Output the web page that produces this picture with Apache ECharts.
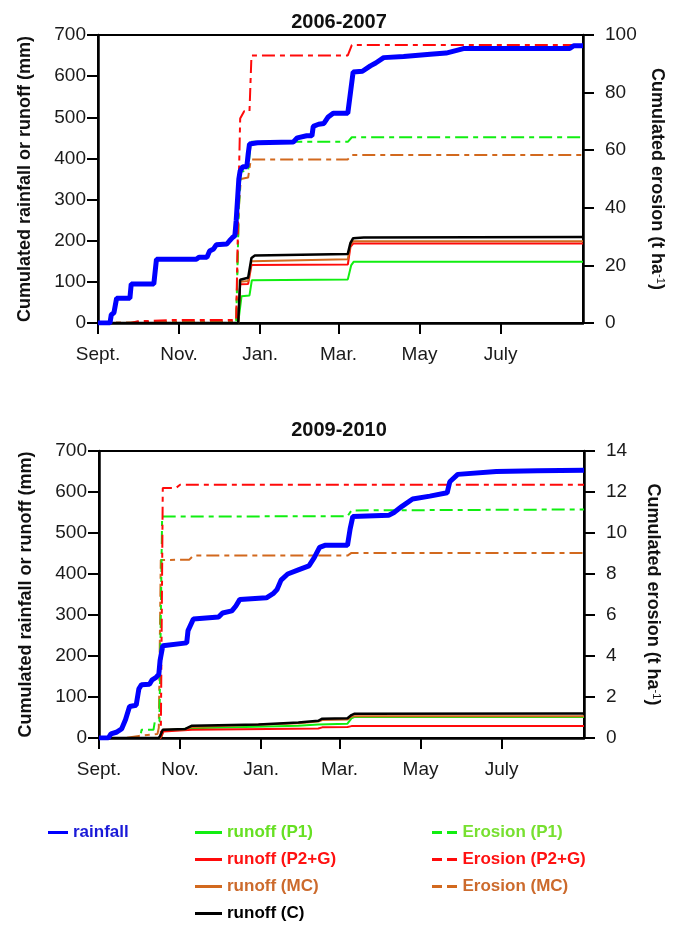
<!DOCTYPE html>
<html>
<head>
<meta charset="utf-8">
<title>Cumulated rainfall, runoff and erosion</title>
<script src="https://cdn.jsdelivr.net/npm/echarts@6.0.0/dist/echarts.min.js"></script>
<style>
  html, body { margin: 0; padding: 0; background: #fff; }
  #chart { width: 678px; height: 928px; }
</style>
</head>
<body>
<div id="chart"></div>
<script>
// x values are days counted from 1 September
const MONTH_TICKS = [0, 61, 122, 181, 242, 303]
const MONTH_LABELS = ['Sept.', 'Nov.', 'Jan.', 'Mar.', 'May', 'July']
const TITLES = ['2006-2007', '2009-2010']
const EROSION_MAX = [100, 14]
const EROSION_STEP = [20, 2]

// ---- 2006-2007 ----
const rain0607 = [[0,0],[9,0],[10,20],[12,25],[14,60],[24,60],[25,95],[42,95],[44,155],[74,155],[76,160],[82,160],[84,175],[87,180],[89,190],[97,192],[99,200],[101,207],[103,212],[104,250],[105,300],[106,350],[107,370],[109,380],[112,380],[113,410],[114,435],[120,438],[147,440],[150,450],[157,455],[161,455],[162,478],[166,483],[170,485],[173,500],[177,510],[188,510],[190,560],[192,610],[199,612],[205,625],[209,632],[215,645],[230,648],[250,653],[262,656],[275,667],[355,667],[358,674],[365,674]]
const runoffP1_0607 = [[0,0],[105.5,0],[108,65],[114,67],[115.8,104],[188,106],[190.5,140],[192.5,149],[365,149]]
const runoffP2G_0607 = [[0,0],[105.5,0],[107,94],[113,95],[115.5,141],[188,142],[190,185],[192,193],[365,193]]
const runoffMC_0607 = [[0,0],[105.5,0],[107,100],[113,102],[115.5,150],[188,155],[190,190],[192,199],[365,199]]
const runoffC_0607 = [[0,0],[105.5,0],[107,105],[113,110],[115.5,158],[118,164],[188,168],[190,195],[192,206],[200,208],[365,209]]
const erosionP1_0607 = [[0,0],[104,0],[106,40],[107.5,52.5],[113,53],[115,62.9],[188,62.9],[191,64.5],[365,64.5]]
const erosionP2G_0607 = [[0,0],[25,0],[30,0.6],[55,1],[104,1],[106,50],[107,71],[110,73.5],[114,73.5],[115.5,92.9],[188,92.9],[191,96.5],[365,96.5]]
const erosionMC_0607 = [[0,0],[30,0.3],[104,0.5],[106,40],[107.5,50],[113,50.5],[115,56.8],[188,56.8],[191,58.3],[365,58.3]]

// ---- 2009-2010 ----
const rain0910 = [[0,0],[7,0],[9,10],[13,14],[17,22],[20,45],[23,77],[28,80],[30,120],[32,130],[38,131],[40,142],[43,148],[45,155],[46,190],[48,225],[66,232],[67,262],[71,290],[90,295],[93,305],[100,310],[103,322],[106,338],[126,342],[131,352],[134,362],[137,385],[142,400],[150,410],[158,420],[162,440],[166,465],[170,470],[187,470],[189,510],[191,540],[218,543],[222,550],[228,565],[236,583],[249,590],[262,598],[264,625],[270,643],[299,650],[330,652],[365,653]]
const runoffP1_0910 = [[0,0],[45,0],[47,4],[48.5,18],[70,24],[150,30],[165,33],[187,35],[190,48],[192,51],[365,51]]
const runoffP2G_0910 = [[0,0],[45,0],[47,4],[48.5,16],[70,20],[165,23],[168,26],[187,27],[190,29],[365,29]]
const runoffMC_0910 = [[0,0],[45,0],[46,5],[48,20],[65,21],[70,27],[150,36],[165,40],[168,44],[187,45],[190,52],[192,53],[365,53]]
const runoffC_0910 = [[0,0],[45,0],[46,5],[48,20],[65,22],[70,30],[120,33],[150,38],[165,42],[168,47],[187,48],[190,56],[192,59],[365,60]]
const erosionP1_0910 = [[0,0],[31,0],[32,0.4],[41,0.4],[42,0.8],[45.5,0.8],[47.5,10.8],[187,10.82],[190,11.1],[365,11.15]]
const erosionP2G_0910 = [[0,0],[46.5,0],[48,12.2],[58,12.2],[61,12.35],[365,12.35]]
const erosionMC_0910 = [[0,0],[20,0],[30,0.1],[44,0.2],[45,0.5],[46.5,8.68],[68,8.7],[71,8.9],[187,8.9],[190,9.03],[365,9.03]]

const BLUE = '#0000ff'
const GREEN = '#11ee11'
const RED = '#ff0a0a'
const ORANGE = '#d2691e'
const BLACK = '#000000'
const FONT = '"Liberation Sans", Arial, Helvetica, sans-serif'
const DASH = [13, 5, 5, 5]

const chart = echarts.init(document.getElementById('chart'))

const grids = [
  { left: 98, top: 35, width: 485, height: 288 },
  { left: 99, top: 451, width: 485, height: 287 }
]

function xAxisFor(i) {
  return {
    type: 'value', gridIndex: i, min: 0, max: 365,
    axisLine: { onZero: false, lineStyle: { color: BLACK, width: 2.5 } },
    axisTick: { customValues: MONTH_TICKS, length: 11, lineStyle: { color: BLACK, width: 2 } },
    axisLabel: {
      customValues: MONTH_TICKS,
      formatter: v => MONTH_LABELS[MONTH_TICKS.indexOf(v)] || '',
      color: '#1a1a1a', fontSize: 19, fontFamily: FONT, margin: 22
    },
    splitLine: { show: false }
  }
}

function leftAxisFor(i) {
  return {
    type: 'value', gridIndex: i, position: 'left', min: 0, max: 700, interval: 100,
    name: 'Cumulated rainfall or runoff (mm)',
    nameLocation: 'middle', nameGap: 64,
    nameTextStyle: { color: '#111', fontSize: 18, fontWeight: 'bold', fontFamily: FONT },
    axisLine: { show: true, onZero: false, lineStyle: { color: BLACK, width: 2.5 } },
    axisTick: { show: true, length: 11, lineStyle: { color: BLACK, width: 2 } },
    axisLabel: { color: '#1a1a1a', fontSize: 19, fontFamily: FONT, margin: 12 },
    splitLine: { show: false }
  }
}

function rightAxisFor(i) {
  return {
    type: 'value', gridIndex: i, position: 'right', min: 0, max: EROSION_MAX[i], interval: EROSION_STEP[i],
    name: 'Cumulated erosion (t ha{sup|-1})',
    nameLocation: 'middle', nameGap: 60, nameRotate: -90,
    nameTextStyle: {
      color: '#111', fontSize: 18, fontWeight: 'bold', fontFamily: FONT,
      rich: { sup: { fontSize: 11, fontWeight: 'normal', verticalAlign: 'top', color: '#111', fontFamily: FONT } }
    },
    axisLine: { show: true, onZero: false, lineStyle: { color: BLACK, width: 2.5 } },
    axisTick: { show: true, length: 11, lineStyle: { color: BLACK, width: 2 } },
    axisLabel: { color: '#1a1a1a', fontSize: 19, fontFamily: FONT, margin: 22 },
    splitLine: { show: false }
  }
}

function line(name, data, gridIdx, yIdx, color, width, dashed) {
  return {
    name, type: 'line', data,
    xAxisIndex: gridIdx, yAxisIndex: yIdx,
    symbol: 'none', silent: true,
    lineStyle: { color, width, type: dashed ? DASH : 'solid' },
    itemStyle: { color }
  }
}

function seriesFor(i, rain, p1, p2g, mc, c, eP1, eP2G, eMC) {
  const yl = i * 2, yr = i * 2 + 1
  return [
    line('Erosion (MC)', eMC, i, yr, ORANGE, 2, true),
    line('Erosion (P1)', eP1, i, yr, GREEN, 2, true),
    line('Erosion (P2+G)', eP2G, i, yr, RED, 2, true),
    line('runoff (P1)', p1, i, yl, GREEN, 2, false),
    line('runoff (P2+G)', p2g, i, yl, RED, 2, false),
    line('runoff (MC)', mc, i, yl, ORANGE, 2, false),
    line('runoff (C)', c, i, yl, BLACK, 2.5, false),
    line('rainfall', rain, i, yl, BLUE, 5, false)
  ]
}

const legendText = { fontSize: 17, fontWeight: 'bold', fontFamily: FONT }
const legendBase = {
  top: 824, orient: 'vertical', padding: 0, itemGap: 10, itemHeight: 3,
  selectedMode: false, textStyle: legendText
}

const option = {
  animation: false,
  backgroundColor: '#ffffff',
  title: TITLES.map((t, i) => ({
    text: t, left: 'center', top: i === 0 ? 7 : 415,
    textStyle: { color: '#111', fontSize: 20, fontWeight: 'bold', fontFamily: FONT }
  })),
  grid: grids.map(g => ({ ...g, show: true, borderColor: BLACK, borderWidth: 2 })),
  xAxis: [xAxisFor(0), xAxisFor(1)],
  yAxis: [leftAxisFor(0), rightAxisFor(0), leftAxisFor(1), rightAxisFor(1)],
  legend: [
    {
      ...legendBase, left: 48, itemWidth: 20, icon: 'rect',
      data: [{ name: 'rainfall', textStyle: { color: '#1a1ad8' } }]
    },
    {
      ...legendBase, left: 195, itemWidth: 27, icon: 'rect',
      data: [
        { name: 'runoff (P1)', textStyle: { color: '#66e022' } },
        { name: 'runoff (P2+G)', textStyle: { color: '#ff1111' } },
        { name: 'runoff (MC)', textStyle: { color: '#cc6a2c' } },
        { name: 'runoff (C)', textStyle: { color: '#000000' } }
      ]
    },
    {
      ...legendBase, left: 432, itemWidth: 26, icon: 'path://M0,0h10v3h-10z M15,0h10v3h-10z',
      data: [
        { name: 'Erosion (P1)', textStyle: { color: '#77e030' } },
        { name: 'Erosion (P2+G)', textStyle: { color: '#ff1111' } },
        { name: 'Erosion (MC)', textStyle: { color: '#cc6a2c' } }
      ]
    }
  ],
  series: [
    ...seriesFor(0, rain0607, runoffP1_0607, runoffP2G_0607, runoffMC_0607, runoffC_0607, erosionP1_0607, erosionP2G_0607, erosionMC_0607),
    ...seriesFor(1, rain0910, runoffP1_0910, runoffP2G_0910, runoffMC_0910, runoffC_0910, erosionP1_0910, erosionP2G_0910, erosionMC_0910)
  ]
}

chart.setOption(option)

window.addEventListener('resize', () => chart.resize())
</script>
</body>
</html>
